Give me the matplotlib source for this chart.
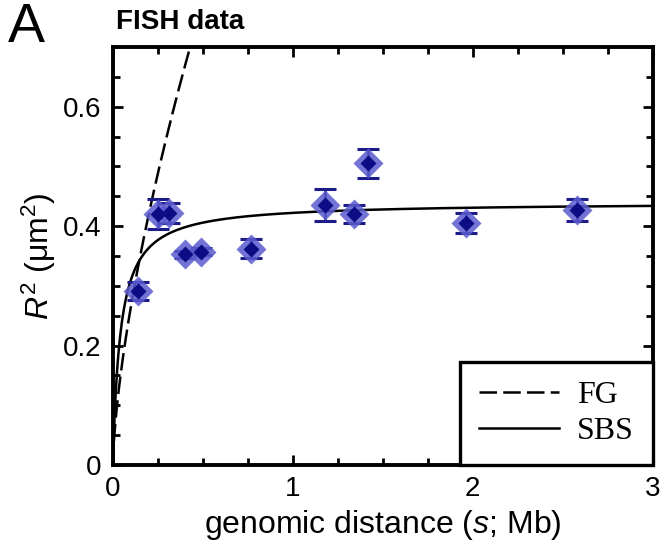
import numpy as np
import matplotlib.pyplot as plt
from matplotlib.ticker import MultipleLocator

plt.rcParams['font.family'] = ['Liberation Sans', 'DejaVu Sans']
plt.rcParams['mathtext.fontset'] = 'custom'
plt.rcParams['mathtext.rm'] = 'Liberation Sans'
plt.rcParams['mathtext.it'] = 'Liberation Sans:italic'

# FISH measurements: genomic distance (Mb), mean R^2 (um^2), error
dist_mb = [0.14, 0.25, 0.31, 0.40, 0.49, 0.77, 1.18, 1.34, 1.42, 1.96, 2.58]
r2_um2 = [0.292, 0.420, 0.422, 0.353, 0.357, 0.362, 0.435, 0.420, 0.505, 0.405, 0.427]
r2_err = [0.015, 0.025, 0.016, 0.006, 0.006, 0.016, 0.027, 0.015, 0.025, 0.017, 0.019]

# model parameters
fg_coef = 1.23       # FG: R^2 = c * s^(2/3)
sbs_rmax = 0.44      # SBS: saturating R^2
sbs_s0 = 0.042

s = np.linspace(0, 3, 600)
fg = fg_coef * s ** (2.0 / 3.0)
sbs = sbs_rmax * s / (s + sbs_s0)

fig = plt.figure(figsize=(6.6, 5.5), dpi=100)
ax = fig.add_axes([0.171, 0.1545, 0.818, 0.76])

ax.plot(s, fg, color='black', ls=(0, (7, 2.5)), lw=1.8, label='FG')
ax.plot(s, sbs, color='black', ls='-', lw=1.8, label='SBS')

ax.errorbar(dist_mb, r2_um2, yerr=r2_err, fmt='none', ecolor='#1c1c88',
            elinewidth=2, capsize=8, capthick=2.2, zorder=3)
ax.plot(dist_mb, r2_um2, 'D', ms=15, color='#5c5ccf', alpha=0.85,
        mec='none', zorder=4)
ax.plot(dist_mb, r2_um2, 'D', ms=8, color='#0c0c84', mec='none', zorder=5)

ax.set_xlim(0, 3)
ax.set_ylim(0, 0.7)
ax.set_xticks([0, 1, 2, 3])
ax.set_yticks([0, 0.2, 0.4, 0.6])
ax.set_xticklabels(['0', '1', '2', '3'])
ax.set_yticklabels(['0', '0.2', '0.4', '0.6'])
ax.xaxis.set_minor_locator(MultipleLocator(0.25))
ax.yaxis.set_minor_locator(MultipleLocator(0.05))
ax.tick_params(which='both', direction='in', top=True, right=True,
               width=2, labelsize=20)
ax.tick_params(which='major', length=7, pad=8)
ax.tick_params(which='minor', length=5)
for sp in ax.spines.values():
    sp.set_linewidth(2.8)

ax.set_xlabel('genomic distance ($s$; Mb)', fontsize=23, labelpad=4)
ax.set_ylabel('$R^2$ (μm$^2$)', fontsize=23, labelpad=4)

leg = ax.legend(loc='lower right', borderaxespad=0, fancybox=False,
                edgecolor='black', framealpha=1, handlelength=2.5,
                borderpad=0.6, labelspacing=0.2, handletextpad=0.55,
                prop={'family': 'Liberation Serif', 'size': 23})
leg.get_frame().set_linewidth(2.4)

fig.text(0.176, 0.96, 'FISH data', fontsize=20, fontweight='bold',
         ha='left', va='center')
fig.text(0.012, 0.95, 'A', fontsize=40, ha='left', va='center')

fig.savefig('out.png', dpi=100)
